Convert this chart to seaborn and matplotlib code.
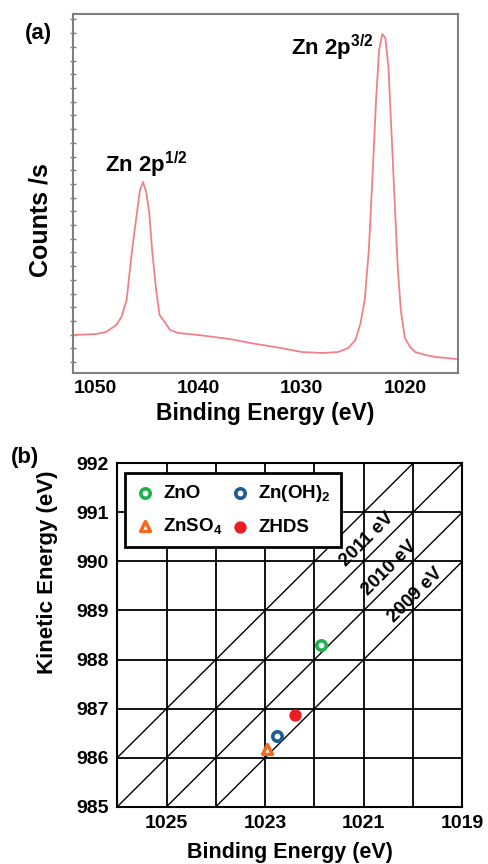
import numpy as np
import pandas as pd
import matplotlib
matplotlib.use("Agg")
import matplotlib.pyplot as plt
import seaborn as sns

# ---------------- data: panel (a) XPS Zn 2p spectrum ----------------
be_spec = [1052.2, 1050.0, 1049.0, 1048.0, 1047.5, 1047.0, 1046.5, 1046.0, 1045.7,
           1045.4, 1045.1, 1044.8, 1044.5, 1044.1, 1043.8, 1043.3, 1042.8, 1042.0,
           1040.0, 1037.0, 1035.0, 1032.0, 1030.0, 1028.0, 1026.5, 1025.5, 1024.8,
           1024.3, 1023.9, 1023.5, 1023.1, 1022.8, 1022.5, 1022.2, 1021.9, 1021.6,
           1021.3, 1021.0, 1020.7, 1020.4, 1020.0, 1019.5, 1019.0, 1018.0, 1017.0,
           1015.0]
counts = [1970, 2040, 2190, 2700, 3290, 4530, 7960, 10880, 12560,
          13140, 12410, 10880, 7960, 5040, 3430, 2920, 2340, 2120,
          1970, 1680, 1390, 1020, 730, 660, 730, 1020, 1610,
          2850, 4530, 8180, 14240, 19130, 22780, 23940, 23650, 21540,
          16720, 11830, 6940, 3800, 1750, 1100, 730, 510, 370,
          220]
peak_labels = ["Zn 2p$^{1/2}$", "Zn 2p$^{3/2}$"]
peak_label_be = [1045.05, 1027.04]
peak_label_counts = [14380, 22900]
xticks_a = [1050, 1040, 1030, 1020]
xminor_a = [1045, 1035, 1025]

# ---------------- data: panel (b) Wagner plot ----------------
compounds = ["ZnO", "ZnSO$_4$", "Zn(OH)$_2$", "ZHDS"]
be_pts = [1021.87, 1022.96, 1022.75, 1022.39]
ke_pts = [988.29, 986.17, 986.44, 986.87]
colors = ["#22b14c", "#f26b1d", "#1b5e96", "#ec1c24"]
markers = ["o", "^", "o", "o"]
filled = [False, False, False, True]

auger_params = [2012, 2011, 2010, 2009]
auger_labels = ["2011 eV", "2010 eV", "2009 eV"]
auger_label_be = [1020.94, 1020.47, 1019.96]
auger_label_ke = [990.44, 989.87, 989.32]

xgrid_b = [1019, 1020, 1021, 1022, 1023, 1024, 1025, 1026]
xticklabels_b = [1025, 1023, 1021, 1019]
yticks_b = [985, 986, 987, 988, 989, 990, 991, 992]

# ---------------- style ----------------
sns.set_style("white")
plt.rcParams["font.family"] = ["Liberation Sans", "DejaVu Sans"]
plt.rcParams["font.weight"] = "bold"
plt.rcParams["axes.labelweight"] = "bold"
plt.rcParams["text.color"] = "black"
plt.rcParams["axes.labelcolor"] = "black"
plt.rcParams["xtick.color"] = "black"
plt.rcParams["ytick.color"] = "black"
plt.rcParams["mathtext.fontset"] = "custom"
plt.rcParams["mathtext.rm"] = "Liberation Sans:bold"
plt.rcParams["mathtext.bf"] = "Liberation Sans:bold"
plt.rcParams["mathtext.it"] = "Liberation Sans:bold"
plt.rcParams["mathtext.default"] = "rm"

W, H = 488, 864
fig = plt.figure(figsize=(W / 100, H / 100), dpi=100)

# ================= panel (a) =================
ax1 = fig.add_axes([73 / W, 1 - 373 / H, 385 / W, 359 / H])
df_a = pd.DataFrame({"be": be_spec, "counts": counts})
sns.lineplot(data=df_a, x="be", y="counts", ax=ax1, color="#f0808a",
             lw=1.3, estimator=None, sort=False)
ax1.set_xlim(1052.2, 1014.85)
ax1.set_ylim(-800, 25400)
ax1.set_xticks(xticks_a)
ax1.set_xticks(xminor_a, minor=True)
ax1.set_xticklabels([str(v) for v in xticks_a], fontsize=14, fontweight="bold")
ax1.set_yticks(np.arange(0, 25001, 1000))
ax1.set_yticklabels([])
gray = "#7f7f7f"
ax1.tick_params(axis="x", which="both", direction="in", length=3, color=gray,
                labelcolor="black", width=1.2, pad=5)
ax1.tick_params(axis="y", which="both", direction="inout", length=4, color=gray,
                width=1.0, left=True)
for s in ax1.spines.values():
    s.set_color(gray)
    s.set_linewidth(1.5)
ax1.set_xlabel("Binding Energy (eV)", fontsize=16.5, fontweight="bold")
ax1.xaxis.set_label_coords(0.5, -0.081)
ax1.xaxis.label.set_va("top")
ax1.set_ylabel("Counts /s", fontsize=18, fontweight="bold")
ax1.yaxis.set_label_coords(-0.052, 0.426)
ax1.yaxis.label.set_va("bottom")
for lab, x, y in zip(peak_labels, peak_label_be, peak_label_counts):
    ax1.text(x, y, lab, ha="center", va="center", fontsize=16, fontweight="bold")
fig.text(38 / W, 1 - 34 / H, "(a)", ha="center", va="center", fontsize=16,
         fontweight="bold")

# ================= panel (b) =================
ax2 = fig.add_axes([117.3 / W, 1 - 806.7 / H, 345 / W, 343.4 / H])
ax2.set_xlim(1026, 1019)
ax2.set_ylim(985, 992)
ax2.set_xticks(xgrid_b)
ax2.set_xticklabels([str(v) if v in xticklabels_b else "" for v in xgrid_b],
                    fontsize=14, fontweight="bold")
ax2.set_yticks(yticks_b)
ax2.set_yticklabels([str(v) for v in yticks_b], fontsize=14, fontweight="bold")
ax2.tick_params(axis="both", length=0, pad=6)
ax2.grid(True, color="black", lw=1.3)
for s in ax2.spines.values():
    s.set_color("black")
    s.set_linewidth(1.5)

for A in auger_params:
    sns.lineplot(x=[1026, 1019], y=[A - 1026, A - 1019], ax=ax2, color="black",
                 lw=1.0, estimator=None, sort=False)
for lab, x, y in zip(auger_labels, auger_label_be, auger_label_ke):
    ax2.text(x, y, lab, rotation=45, rotation_mode="anchor", ha="center",
             va="center", fontsize=13.5, fontweight="bold")

for name, x, y, c, m, f in zip(compounds, be_pts, ke_pts, colors, markers, filled):
    if f:
        size, lw = 62, 1.0
    elif m == "^":
        size, lw = 50, 2.5
    else:
        size, lw = 46, 2.6
    sns.scatterplot(x=[x], y=[y], ax=ax2, marker=m, s=size,
                    facecolor=(c if f else "white"), edgecolor=c, linewidth=lw,
                    label=name, zorder=5)

handles, labels = ax2.get_legend_handles_labels()
leg = ax2.legend(handles, labels, ncol=2, loc="upper left",
                 bbox_to_anchor=((125 - 117.3) / 345, (806.7 - 473) / 343.4),
                 borderaxespad=0, fontsize=13.5, frameon=True,
                 fancybox=False, framealpha=1, edgecolor="black",
                 handlelength=1.0, handletextpad=0.5, columnspacing=0.4,
                 borderpad=0.55, labelspacing=0.75)
leg.get_frame().set_linewidth(2.0)
for t in leg.get_texts():
    t.set_fontweight("bold")

ax2.set_xlabel("Binding Energy (eV)", fontsize=15.5, fontweight="bold")
ax2.xaxis.set_label_coords(0.5, -0.102)
ax2.xaxis.label.set_va("top")
ax2.set_ylabel("Kinetic Energy (eV)", fontsize=16, fontweight="bold")
ax2.yaxis.set_label_coords(-0.172, 0.684)
ax2.yaxis.label.set_va("bottom")
fig.text(25 / W, 1 - 457 / H, "(b)", ha="center", va="center", fontsize=16,
         fontweight="bold")

fig.savefig("out.png", dpi=100)
